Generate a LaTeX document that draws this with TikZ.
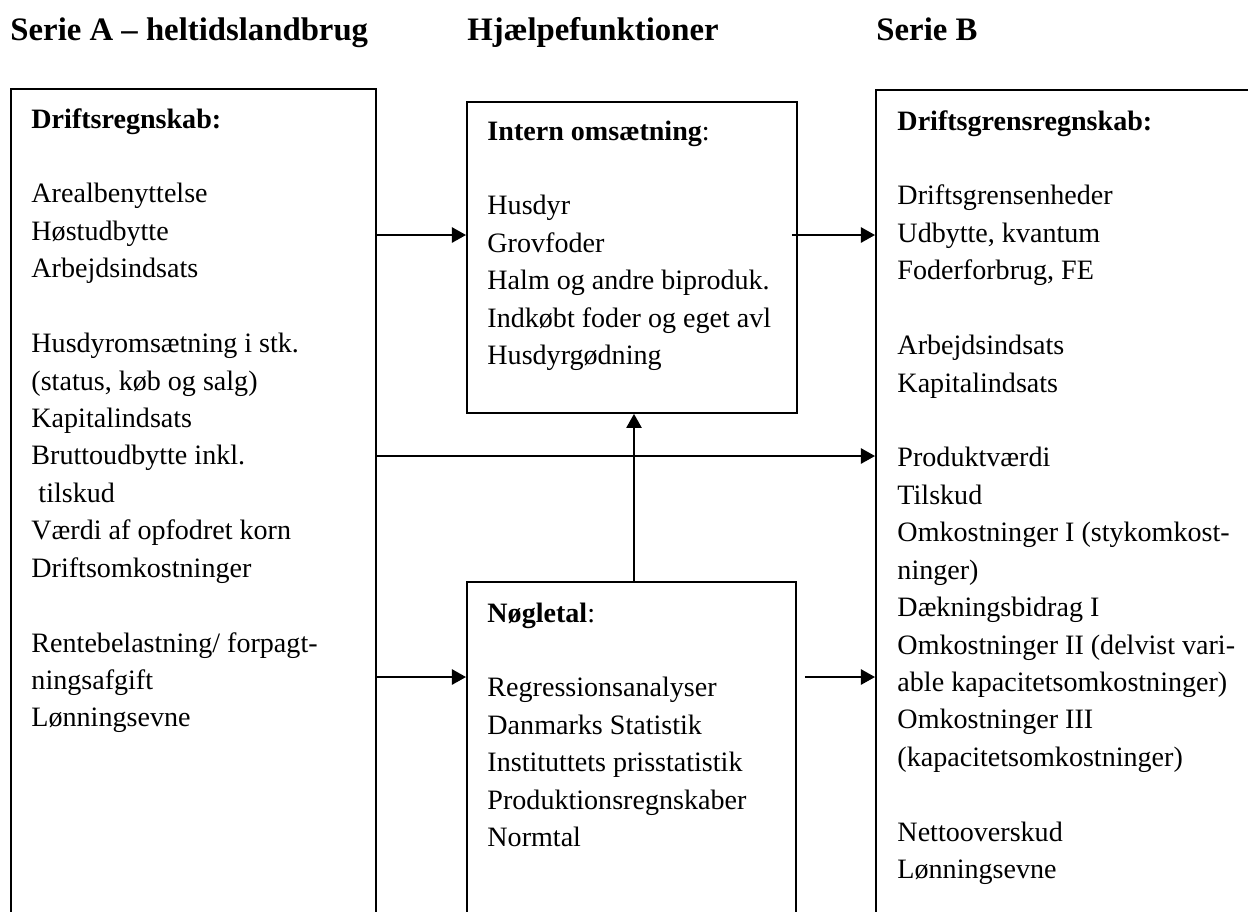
\documentclass[tikz,border=0pt]{standalone}
\usepackage{fontspec}
\setmainfont{Liberation Serif}
\usetikzlibrary{arrows.meta}
\newcommand\pxu{0.4274pt}

\begin{document}
\begin{tikzpicture}[x = \pxu, y = -\pxu,
        box/.style = {draw, line width = .8pt, anchor = north west, inner sep = 0},
        arr/.style = {line width = .8pt, -{Triangle[length = 6pt, width = 6.5pt]}},
        head/.style = {anchor = base west, inner sep = 0, font = \fontsize{14}{16}\selectfont\bfseries},
        txt/.style = {anchor = base west, inner sep = 0, font = \fontsize{12}{16}\selectfont}]
        \useasboundingbox (0, 0) rectangle (1248, 911);
        \clip (0, 0) rectangle (1248, 911);
        % column headings
        \node [head] (seriea) at (10, 40) {Serie A – heltidslandbrug};
        \node [head] (hjaelp) at (467, 40) {Hjælpefunktioner};
        \node [head] (serieb) at (876, 40) {Serie B};
        % boxes, open at the bottom of the page
        \node [box, minimum width = 365*\pxu, minimum height = 900*\pxu] (lbox) at (10, 88) {};
        \node [box, minimum width = 330*\pxu, minimum height = 311*\pxu] (ibox) at (466, 101) {};
        \node [box, minimum width = 329*\pxu, minimum height = 400*\pxu] (nbox) at (466, 581) {};
        \node [box, minimum width = 400*\pxu, minimum height = 900*\pxu] (rbox) at (875, 89) {};
        \node [txt] (ltxt) at (31, 128) {\begin{tabular}[t]{@{}l@{}}
                \textbf{Driftsregnskab:}\\
                \\
                Arealbenyttelse\\
                Høstudbytte\\
                Arbejdsindsats\\
                \\
                Husdyromsætning i stk.\\
                (status, køb og salg)\\
                Kapitalindsats\\
                Bruttoudbytte inkl.\\
                \ tilskud\\
                Værdi af opfodret korn\\
                Driftsomkostninger\\
                \\
                Rentebelastning/ forpagt-\\
                ningsafgift\\
                Lønningsevne
            \end{tabular}};
        \node [txt] (itxt) at (487, 140) {\begin{tabular}[t]{@{}l@{}}
                \textbf{Intern omsætning}:\\
                \\
                Husdyr\\
                Grovfoder\\
                Halm og andre biproduk.\\
                Indkøbt foder og eget avl\\
                Husdyrgødning
            \end{tabular}};
        \node [txt] (ntxt) at (487, 622) {\begin{tabular}[t]{@{}l@{}}
                \textbf{Nøgletal}:\\
                \\
                Regressionsanalyser\\
                Danmarks Statistik\\
                Instituttets prisstatistik\\
                Produktionsregnskaber\\
                Normtal
            \end{tabular}};
        \node [txt] (rtxt) at (897, 130) {\begin{tabular}[t]{@{}l@{}}
                \textbf{Driftsgrensregnskab:}\\
                \\
                Driftsgrensenheder\\
                Udbytte, kvantum\\
                Foderforbrug, FE\\
                \\
                Arbejdsindsats\\
                Kapitalindsats\\
                \\
                Produktværdi\\
                Tilskud\\
                Omkostninger I (stykomkost-\\
                ninger)\\
                Dækningsbidrag I\\
                Omkostninger II (delvist vari-\\
                able kapacitetsomkostninger)\\
                Omkostninger III\\
                (kapacitetsomkostninger)\\
                \\
                Nettooverskud\\
                Lønningsevne
            \end{tabular}};
        % arrow rows and the up column
        \coordinate (row1) at (0, 235);
        \coordinate (row2) at (0, 456);
        \coordinate (row3) at (0, 677);
        \coordinate (col) at (634, 0);
        \draw [arr] (lbox.east |- row1) -- (ibox.west |- row1);
        \draw [arr, shorten < = -6*\pxu] (ibox.east |- row1) -- (rbox.west |- row1);
        \draw [arr] (lbox.east |- row2) -- (rbox.west |- row2);
        \draw [arr] (nbox.north -| col) -- (ibox.south -| col);
        \draw [arr] (lbox.east |- row3) -- (nbox.west |- row3);
        \draw [arr, shorten < = 8*\pxu] (nbox.east |- row3) -- (rbox.west |- row3);
    \end{tikzpicture}
\end{document}
